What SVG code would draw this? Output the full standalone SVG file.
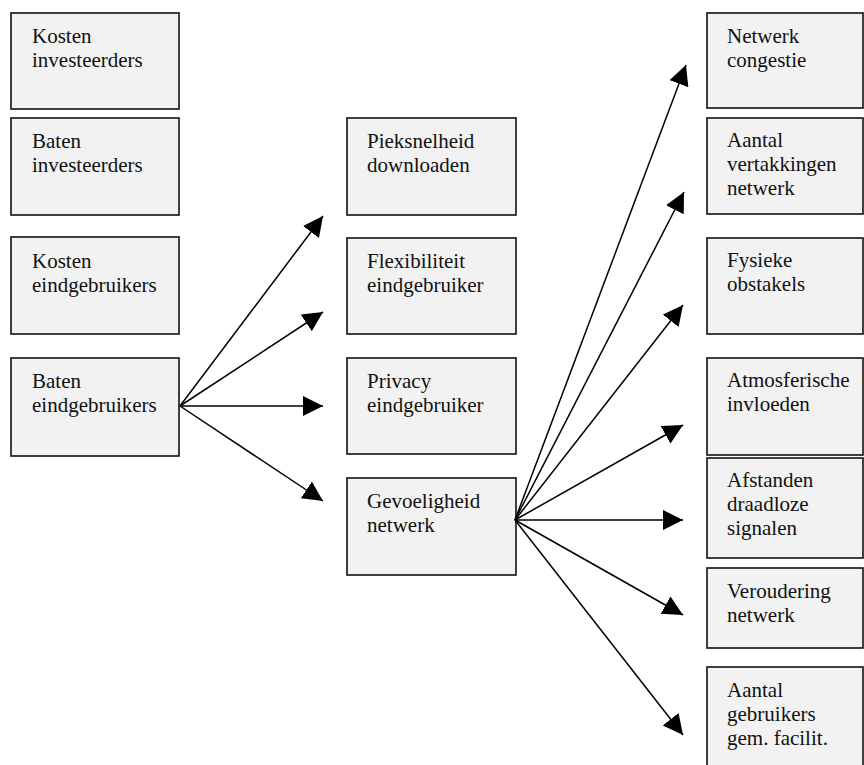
<svg xmlns="http://www.w3.org/2000/svg" width="864" height="765" viewBox="0 0 864 765">
<style>
.box{fill:#f2f2f2;stroke:#111;stroke-width:1.6}
text{font-family:"Liberation Serif","Times New Roman",serif;font-size:21px;fill:#111}
.c line{stroke:#000;stroke-width:1.5;marker-end:url(#ah)}
</style>
<defs>
<marker id="ah" markerUnits="userSpaceOnUse" markerWidth="21" markerHeight="21" refX="20" refY="10" orient="auto" viewBox="0 0 21 21">
<path d="M0,0 L20,10 L0,20 z" fill="#000"/>
</marker>
</defs>
<rect width="864" height="765" fill="#fff"/>
<g id="n-kosten-inv"><rect class="box" x="11" y="13" width="168" height="96"/><text x="32" y="43">Kosten</text><text x="32" y="67">investeerders</text></g>
<g id="n-baten-inv"><rect class="box" x="11" y="118" width="168" height="97"/><text x="32" y="148">Baten</text><text x="32" y="172">investeerders</text></g>
<g id="n-kosten-eind"><rect class="box" x="11" y="237" width="168" height="97"/><text x="32" y="268">Kosten</text><text x="32" y="292">eindgebruikers</text></g>
<g id="n-baten-eind"><rect class="box" x="11" y="358" width="168" height="98"/><text x="32" y="388">Baten</text><text x="32" y="412">eindgebruikers</text></g>
<g id="n-piek"><rect class="box" x="347" y="118" width="169" height="97"/><text x="367" y="148">Pieksnelheid</text><text x="367" y="172">downloaden</text></g>
<g id="n-flex"><rect class="box" x="347" y="238" width="169" height="96"/><text x="367" y="268">Flexibiliteit</text><text x="367" y="292">eindgebruiker</text></g>
<g id="n-privacy"><rect class="box" x="347" y="358" width="169" height="96"/><text x="367" y="388">Privacy</text><text x="367" y="412">eindgebruiker</text></g>
<g id="n-gevoel"><rect class="box" x="347" y="478" width="169" height="97"/><text x="367" y="508">Gevoeligheid</text><text x="367" y="532">netwerk</text></g>
<g id="n-congestie"><rect class="box" x="707" y="13" width="156" height="95"/><text x="727" y="43">Netwerk</text><text x="727" y="67">congestie</text></g>
<g id="n-vertak"><rect class="box" x="707" y="118" width="156" height="96"/><text x="727" y="147">Aantal</text><text x="727" y="171">vertakkingen</text><text x="727" y="195">netwerk</text></g>
<g id="n-fysiek"><rect class="box" x="707" y="238" width="156" height="96"/><text x="727" y="267">Fysieke</text><text x="727" y="291">obstakels</text></g>
<g id="n-atmos"><rect class="box" x="707" y="358" width="156" height="97"/><text x="727" y="387">Atmosferische</text><text x="727" y="411">invloeden</text></g>
<g id="n-afstand"><rect class="box" x="707" y="458" width="156" height="100"/><text x="727" y="487">Afstanden</text><text x="727" y="511">draadloze</text><text x="727" y="535">signalen</text></g>
<g id="n-verouder"><rect class="box" x="707" y="568" width="156" height="80"/><text x="727" y="598">Veroudering</text><text x="727" y="622">netwerk</text></g>
<g id="n-gebruikers"><rect class="box" x="707" y="667" width="156" height="105"/><text x="727" y="697">Aantal</text><text x="727" y="721">gebruikers</text><text x="727" y="745">gem. facilit.</text></g>
<g id="connectors" class="c">
<line x1="180" y1="406" x2="323" y2="216"/>
<line x1="180" y1="406" x2="323" y2="312"/>
<line x1="180" y1="406" x2="323" y2="406"/>
<line x1="180" y1="406" x2="323" y2="501"/>
<line x1="515" y1="520" x2="686" y2="65"/>
<line x1="515" y1="520" x2="684" y2="192"/>
<line x1="515" y1="520" x2="683" y2="305"/>
<line x1="515" y1="520" x2="683" y2="425"/>
<line x1="515" y1="520" x2="683" y2="520"/>
<line x1="515" y1="520" x2="683" y2="615"/>
<line x1="515" y1="520" x2="683" y2="735"/>
</g>
</svg>
